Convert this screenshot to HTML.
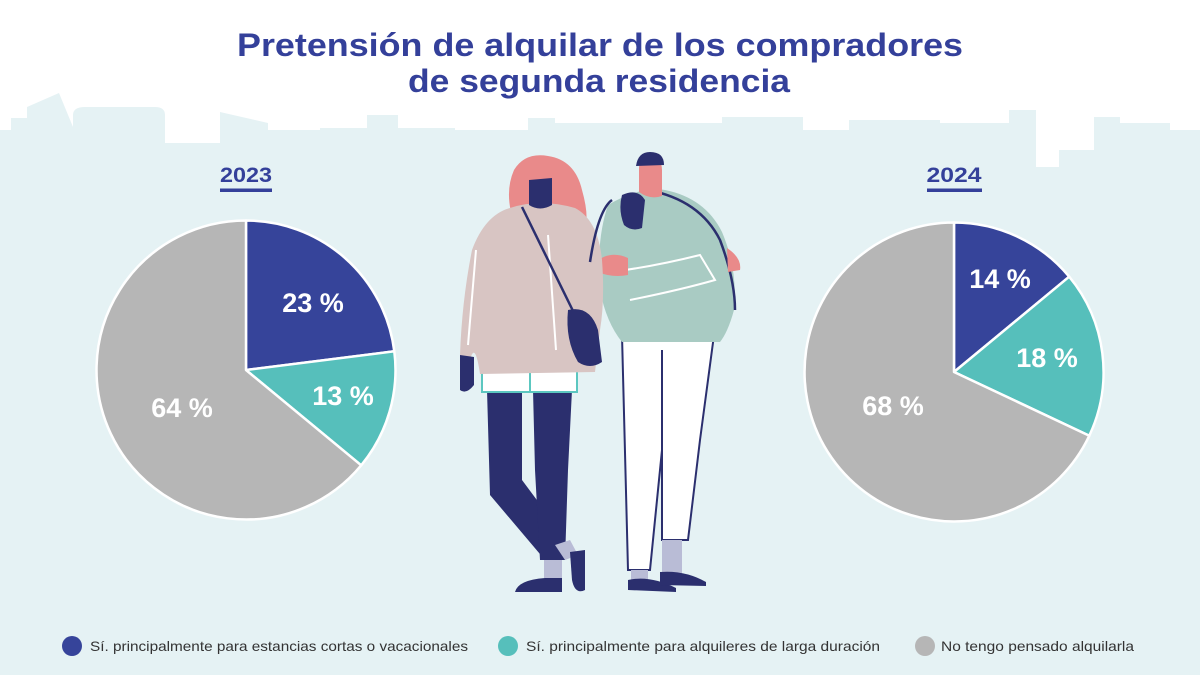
<!DOCTYPE html>
<html><head><meta charset="utf-8">
<style>
html,body{margin:0;padding:0;background:#fff;}
svg{display:block;}
text{font-family:"Liberation Sans",sans-serif;}
</style></head>
<body>
<svg width="1200" height="675" viewBox="0 0 1200 675" xmlns="http://www.w3.org/2000/svg">
  <rect x="0" y="0" width="1200" height="675" fill="#ffffff"/>
  <!-- skyline background -->
  <path fill="#e5f2f4" d="M0,130 L11,130 L11,118 L27,118 L27,107 L59,93 L73,127 L73,115 Q73,107 85,107 L155,107 Q165,107 165,115 L165,143 L220,143 L220,112 L268,123 L268,130 L320,130 L320,128 L367,128 L367,115 L398,115 L398,128 L455,128 L455,130 L528,130 L528,118 L555,118 L555,123 L722,123 L722,117 L803,117 L803,130 L849,130 L849,120 L940,120 L940,123 L1009,123 L1009,110 L1036,110 L1036,167 L1059,167 L1059,150 L1094,150 L1094,117 L1120,117 L1120,123 L1170,123 L1170,130 L1200,130 L1200,675 L0,675 Z"/>

  <!-- title -->
  <text x="600" y="56" text-anchor="middle" font-size="32" font-weight="bold" fill="#34409a" textLength="726" lengthAdjust="spacingAndGlyphs">Pretensión de alquilar de los compradores</text>
  <text x="599" y="92" text-anchor="middle" font-size="32" font-weight="bold" fill="#34409a" textLength="382" lengthAdjust="spacingAndGlyphs">de segunda residencia</text>

  <!-- year labels -->
  <text x="246" y="182" text-anchor="middle" font-size="21" font-weight="bold" fill="#34409a" textLength="52" lengthAdjust="spacingAndGlyphs">2023</text>
  <rect x="220" y="188.5" width="52" height="3.5" fill="#34409a"/>
  <text x="954" y="182" text-anchor="middle" font-size="21" font-weight="bold" fill="#34409a" textLength="55" lengthAdjust="spacingAndGlyphs">2024</text>
  <rect x="927" y="188.5" width="55" height="3.5" fill="#34409a"/>

  <!-- pie 2023 -->
  <g stroke="#ffffff" stroke-width="2.5" stroke-linejoin="round">
    <path d="M246,370 L246,220.5 A149.5,149.5 0 0 1 394.3,351.3 Z" fill="#36449a"/>
    <path d="M246,370 L394.3,351.3 A149.5,149.5 0 0 1 361.2,465.3 Z" fill="#56bfbb"/>
    <path d="M246,370 L361.2,465.3 A149.5,149.5 0 1 1 246,220.5 Z" fill="#b6b6b6"/>
  </g>
  <g font-size="27" font-weight="bold" fill="#ffffff" text-anchor="middle">
    <text x="313" y="312">23 %</text>
    <text x="343" y="405">13 %</text>
    <text x="182" y="417">64 %</text>
  </g>

  <!-- pie 2024 -->
  <g stroke="#ffffff" stroke-width="2.5" stroke-linejoin="round">
    <path d="M954,372 L954,222.5 A149.5,149.5 0 0 1 1069.2,276.7 Z" fill="#36449a"/>
    <path d="M954,372 L1069.2,276.7 A149.5,149.5 0 0 1 1089.3,435.7 Z" fill="#56bfbb"/>
    <path d="M954,372 L1089.3,435.7 A149.5,149.5 0 1 1 954,222.5 Z" fill="#b6b6b6"/>
  </g>
  <g font-size="27" font-weight="bold" fill="#ffffff" text-anchor="middle">
    <text x="1000" y="288">14 %</text>
    <text x="1047" y="367">18 %</text>
    <text x="893" y="415">68 %</text>
  </g>

  <!-- illustration: man (behind) -->
  <path d="M622,335 L714,335 L700,440 L688,540 L662,540 L662,450 L650,570 L628,570 Z" fill="#ffffff" stroke="#2b2f6e" stroke-width="2"/>
  <line x1="662" y1="350" x2="662" y2="540" stroke="#2b2f6e" stroke-width="2"/>
  <rect x="631" y="570" width="17" height="10" fill="#b9bcd6"/>
  <rect x="662" y="540" width="20" height="35" fill="#b9bcd6"/>
  <path d="M628,590 L628,580 Q650,575 676,588 L676,592 Z" fill="#2b2f6e"/>
  <path d="M660,585 L660,572 Q685,570 706,582 L706,586 Z" fill="#2b2f6e"/>
  <!-- man sweater -->
  <path d="M608,205 Q640,186 665,190 Q705,198 722,232 Q738,270 734,310 Q728,332 720,342 L622,342 Q606,322 600,290 Q596,240 608,205 Z" fill="#a9cbc3"/>
  <path d="M648,190 Q700,200 720,240 Q735,280 735,310" fill="none" stroke="#2b2f6e" stroke-width="2.5"/>
  <path d="M625,270 Q660,265 700,255 L715,280 Q680,290 630,300" fill="none" stroke="#ffffff" stroke-width="2"/>
  <!-- man hands -->
  <path d="M596,262 Q610,250 628,258 L628,275 Q612,278 598,272 Z" fill="#e98a8a"/>
  <path d="M727,248 Q742,258 740,270 L728,272 Z" fill="#e98a8a"/>
  <!-- man head -->
  <path d="M639,192 L639,168 Q639,158 650,158 Q662,158 662,170 L662,196 Q650,200 639,192 Z" fill="#e98a8a"/>
  <path d="M636,166 Q638,152 650,152 Q664,152 664,165 Z" fill="#2b2f6e"/>

  <!-- illustration: woman -->
  <path d="M487,390 L522,390 L522,480 L548,515 L560,555 L545,560 L490,495 Z" fill="#2b2f6e"/>
  <path d="M533,390 L572,390 L568,470 L565,560 L540,560 L535,470 Z" fill="#2b2f6e"/>
  <rect x="544" y="560" width="18" height="18" fill="#b9bcd6"/>
  <path d="M555,545 L570,540 L578,555 L565,560 Z" fill="#b9bcd6"/>
  <path d="M515,592 Q518,580 545,578 L562,578 L562,592 Z" fill="#2b2f6e"/>
  <path d="M570,552 L585,550 L585,590 Q575,595 572,580 Z" fill="#2b2f6e"/>
  <rect x="482" y="370" width="48" height="22" fill="#ffffff" stroke="#5cc7c0" stroke-width="2"/>
  <rect x="530" y="370" width="47" height="22" fill="#ffffff" stroke="#5cc7c0" stroke-width="2"/>
  <!-- hair -->
  <path d="M516,228 Q503,195 514,170 Q525,152 548,156 Q575,160 582,190 Q590,218 584,232 Z" fill="#e98a8a"/>
  <!-- sweater -->
  <path d="M510,208 Q540,198 575,208 Q598,220 602,260 Q605,300 600,330 L595,372 L480,374 Q475,340 470,360 L460,355 Q462,300 472,250 Q485,215 510,208 Z" fill="#d8c5c3"/>
  <path d="M468,345 L476,250 M548,235 L556,350" fill="none" stroke="#ffffff" stroke-width="2"/>
  <path d="M460,355 L474,357 L474,385 Q466,395 460,390 Z" fill="#2b2f6e"/>
  <path d="M529,180 L552,178 L552,205 Q540,212 529,205 Z" fill="#2b2f6e"/>
  <line x1="522" y1="207" x2="575" y2="315" stroke="#2b2f6e" stroke-width="2.5"/>
  <path d="M568,310 Q590,305 598,330 L602,362 Q590,370 578,362 Q565,340 568,310 Z" fill="#2b2f6e"/>
  <path d="M622,195 Q638,188 645,200 L642,228 Q632,232 624,225 Q618,210 622,195 Z" fill="#2b2f6e"/>
  <path d="M590,262 Q598,210 612,200" fill="none" stroke="#2b2f6e" stroke-width="2.5"/>

  <!-- legend -->
  <circle cx="72" cy="646" r="10" fill="#36449a"/>
  <text x="90" y="651" font-size="14" fill="#333333" textLength="378" lengthAdjust="spacingAndGlyphs">Sí. principalmente para estancias cortas o vacacionales</text>
  <circle cx="508" cy="646" r="10" fill="#56bfbb"/>
  <text x="526" y="651" font-size="14" fill="#333333" textLength="354" lengthAdjust="spacingAndGlyphs">Sí. principalmente para alquileres de larga duración</text>
  <circle cx="925" cy="646" r="10" fill="#b6b6b6"/>
  <text x="941" y="651" font-size="14" fill="#333333" textLength="193" lengthAdjust="spacingAndGlyphs">No tengo pensado alquilarla</text>
</svg>
</body></html>
